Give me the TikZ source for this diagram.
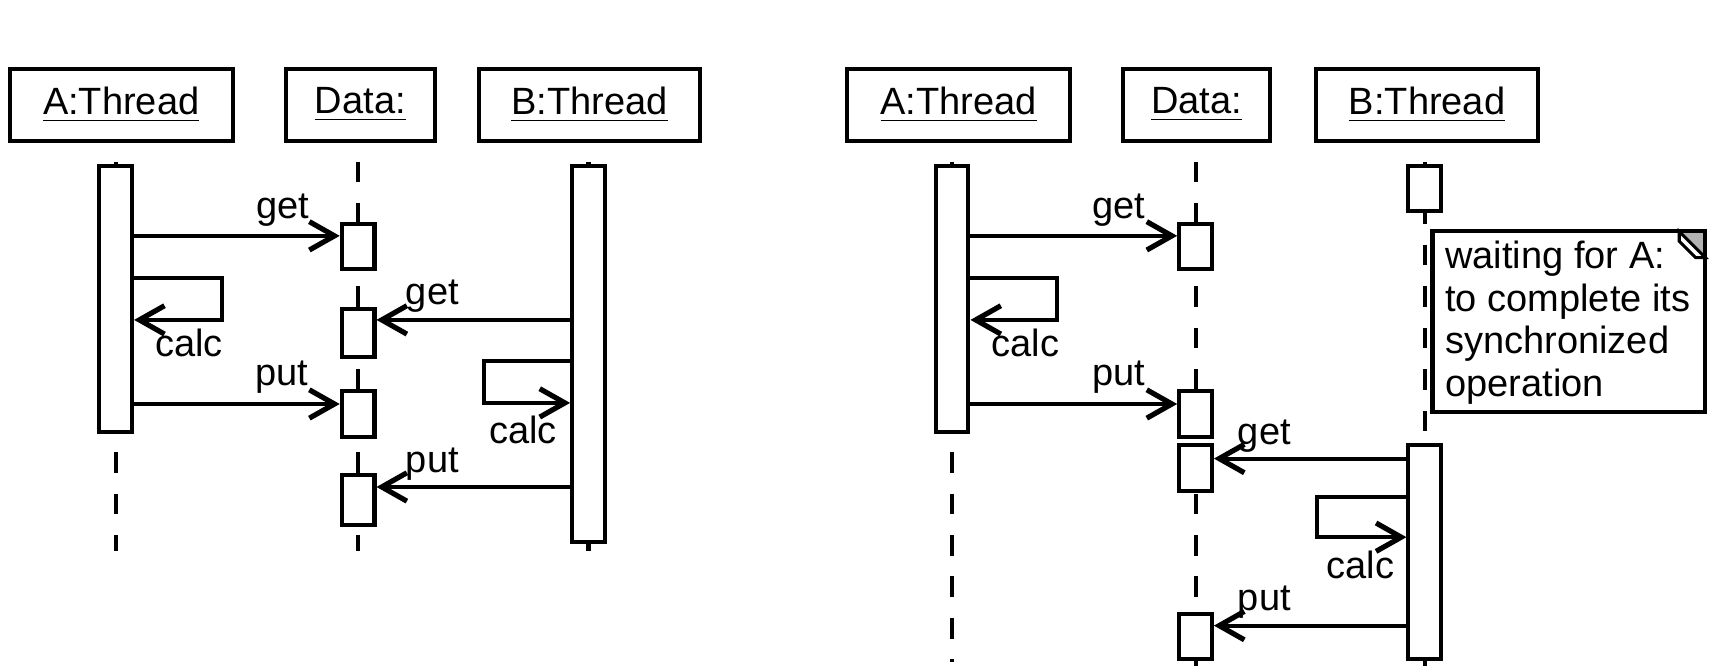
\documentclass[tikz,border=0pt]{standalone}
\usepackage{fontspec}
\setmainfont{Liberation Sans}
\usetikzlibrary{arrows.meta,positioning,calc}

\begin{document}
\begin{tikzpicture}[x=0.1mm, y=-0.1mm, line width=1.05pt,
    >={Straight Barb[length=2.3mm, width=2.6mm, line width=1.35pt]},
    font=\fontsize{9.9}{11}\selectfont,
    obj/.style={draw, minimum height=6.6mm, inner sep=0pt},
    act/.style={draw, fill=white, minimum width=3mm, inner sep=0pt},
    life/.style={dash pattern=on 1.9mm off 1.9mm},
    lbl/.style={inner sep=0pt, yshift=-0.35mm}]
  \useasboundingbox (0,0) rectangle (1568,614);

  % objects
  \foreach \x/\w/\n/\t in {111/20.4mm/oA/A:Thread, 330/13.6mm/oD/Data:, 540/20.3mm/oB/B:Thread,
      878/20.4mm/pA/A:Thread, 1096/13.5mm/pD/Data:, 1307/20.4mm/pB/B:Thread}
    \node[obj, minimum width=\w] (\n) at (\x,96) {\underline{\t}};

  % lifelines
  \foreach \x/\e in {106/505, 328/505, 539/505, 872/606, 1095/610, 1305/610}
    \draw[life] (\x,148) -- (\x,\e);

  % left: activations
  \node[act, minimum height=24.4mm] (aA) at (106,274) {};
  \node[act, minimum height=34.4mm] (aB) at (539,324) {};
  \node[act, minimum height=4.1mm] (d1) at (328,225.5) {};
  \node[act, minimum height=4.4mm] (d2) at (328,305) {};
  \node[act, minimum height=4.2mm] (d3) at (328,379) {};
  \node[act, minimum height=4.6mm] (d4) at (328,458) {};

  % left: messages
  \draw[->] (aA.east |- 0,216) -- (d1.west |- 0,216);
  \node[lbl] (l1) at (259,189) {get};
  \draw[->] (aA.east |- 0,255) -| (203,293) -- (aA.east |- 0,293);
  \node[lbl] (l2) at (173,311) {calc};
  \draw[->] (aA.east |- 0,370) -- (d3.west |- 0,370);
  \node[lbl] (l3) at (258,342) {put};
  \draw[->] (aB.west |- 0,293) -- (d2.east |- 0,293);
  \node[lbl] (l4) at (396,268) {get};
  \draw[->] (aB.west |- 0,331) -| (443,369) -- (aB.west |- 0,369);
  \node[lbl] (l5) at (479,390) {calc};
  \draw[->] (aB.west |- 0,446) -- (d4.east |- 0,446);
  \node[lbl] (l6) at (396,422) {put};

  % right: activations
  \node[act, minimum height=24.4mm] (rA) at (872,274) {};
  \node[act, minimum height=4.1mm] (rB0) at (1305,172.5) {};
  \node[act, minimum height=19.6mm] (rB) at (1305,506) {};
  \node[act, minimum height=4.1mm] (e1) at (1095,225.5) {};
  \node[act, minimum height=4.2mm] (e2) at (1095,379) {};
  \node[act, minimum height=4.2mm] (e3) at (1095,429) {};
  \node[act, minimum height=4.2mm] (e4) at (1095,583) {};

  % right: messages
  \draw[->] (rA.east |- 0,216) -- (e1.west |- 0,216);
  \node[lbl] (m1) at (1025,189) {get};
  \draw[->] (rA.east |- 0,255) -| (968,293) -- (rA.east |- 0,293);
  \node[lbl] (m2) at (939,311) {calc};
  \draw[->] (rA.east |- 0,370) -- (e2.west |- 0,370);
  \node[lbl] (m3) at (1025,342) {put};
  \draw[->] (rB.west |- 0,420) -- (e3.east |- 0,420);
  \node[lbl] (m4) at (1158,396) {get};
  \draw[->] (rB.west |- 0,455) -| (1206,492) -- (rB.west |- 0,492);
  \node[lbl] (m5) at (1246,514) {calc};
  \draw[->] (rB.west |- 0,573) -- (e4.east |- 0,573);
  \node[lbl] (m6) at (1158,548) {put};

  % note
  \node[fill=white, anchor=north west, minimum width=25mm, minimum height=16.5mm,
        inner sep=0pt, outer sep=0pt] (note) at (1312,212) {};
  \node[anchor=north west, align=left, inner sep=0pt, font=\fontsize{9.9}{11.1}\selectfont]
    (notetext) at (1322,219) {waiting for A:\\to complete its\\synchronized\\operation};
  \fill[gray!60] ([xshift=-2.4mm]note.north east) -- (note.north east) -- ([yshift=-2.4mm]note.north east) -- cycle;
  \draw[line width=0.8pt, fill=white] ([xshift=-2.4mm]note.north east) -- ([yshift=-2.4mm]note.north east)
    -- ([xshift=-0.9mm, yshift=-2.4mm]note.north east) -- ([xshift=-2.4mm, yshift=-0.9mm]note.north east) -- cycle;
  \draw (note.north west) rectangle (note.south east);
\end{tikzpicture}
\end{document}
